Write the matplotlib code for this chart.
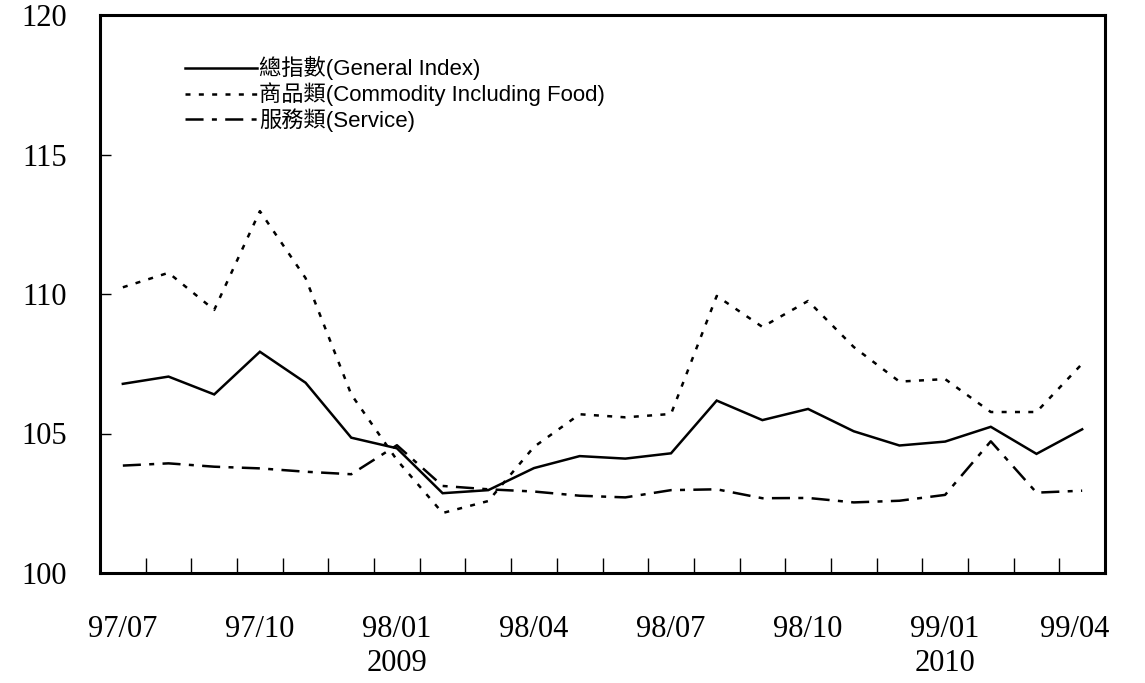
import matplotlib
matplotlib.use("Agg")
import matplotlib.pyplot as plt
from matplotlib.ticker import FixedLocator
from matplotlib.transforms import ScaledTranslation

plt.rcParams['lines.scale_dashes'] = False

months = ["97/07", "97/08", "97/09", "97/10", "97/11", "97/12",
          "98/01", "98/02", "98/03", "98/04", "98/05", "98/06",
          "98/07", "98/08", "98/09", "98/10", "98/11", "98/12",
          "99/01", "99/02", "99/03", "99/04"]
general = [106.78, 107.04, 106.40, 107.93, 106.82, 104.85,
           104.47, 102.86, 102.97, 103.76, 104.19, 104.10,
           104.29, 106.18, 105.48, 105.88, 105.08, 104.57,
           104.71, 105.24, 104.27, 105.15]
commodity = [110.24, 110.76, 109.43, 112.97, 110.57, 106.40,
             104.05, 102.15, 102.58, 104.52, 105.69, 105.58,
             105.70, 109.93, 108.82, 109.75, 108.10, 106.86,
             106.95, 105.77, 105.77, 107.50]
service = [103.85, 103.93, 103.81, 103.75, 103.63, 103.54,
           104.58, 103.12, 103.00, 102.92, 102.77, 102.71,
           102.97, 103.00, 102.68, 102.69, 102.53, 102.59,
           102.80, 104.72, 102.88, 102.95]
names = ["總指數(General Index)", "商品類(Commodity Including Food)", "服務類(Service)"]
tick_labels = ["97/07", "97/10", "98/01\n2009", "98/04", "98/07", "98/10", "99/01\n2010", "99/04"]
tick_idx = [0, 3, 6, 9, 12, 15, 18, 21]
yticks = [100, 105, 110, 115, 120]

fig = plt.figure(figsize=(11.45, 6.83), dpi=100)
ax = fig.add_axes([100/1145, 1 - 573/683, 1005/1145, 558/683])

x = list(range(len(months)))
lw = 1.8
ax.plot(x, general, color="black", lw=lw, solid_joinstyle="miter", label=names[0])
l2, = ax.plot(x, commodity, color="black", lw=lw, label=names[1])
l2.set_dashes((3.6, 6.0))
l3, = ax.plot(x, service, color="black", lw=lw, label=names[2])
l3.set_dashes((13, 6.0, 3.6, 6.0))

ax.set_xlim(-0.5, len(months) - 0.5)
ax.set_ylim(100, 120)

for s in ax.spines.values():
    s.set_linewidth(2.2)
    s.set_color("black")

serif = "Liberation Serif"
ax.set_yticks(yticks)
ax.set_yticklabels([str(v) for v in yticks], fontfamily=serif, fontsize=22)
ax.tick_params(axis="y", direction="in", length=8, width=1.0, pad=24)

ax.set_xticks(tick_idx)
ax.set_xticklabels(tick_labels, fontfamily=serif, fontsize=22, linespacing=1.25)
ax.tick_params(axis="x", which="major", length=0, pad=30)
ax.xaxis.set_minor_locator(FixedLocator([i + 0.5 for i in range(len(months) - 1)]))
ax.tick_params(axis="x", which="minor", direction="in", length=11, width=1.0)
last = ax.get_xticklabels()[-1]
last.set_transform(last.get_transform() + ScaledTranslation(-7/100, 0, fig.dpi_scale_trans))

leg = ax.legend(loc="upper left", bbox_to_anchor=(0.0846, 0.926), frameon=False,
                handlelength=3.25, handletextpad=0.1, labelspacing=0.1,
                borderaxespad=0, borderpad=0,
                prop={"family": ["Liberation Sans", "Noto Sans CJK TC"], "size": 16})

fig.savefig("out.png", dpi=100)
